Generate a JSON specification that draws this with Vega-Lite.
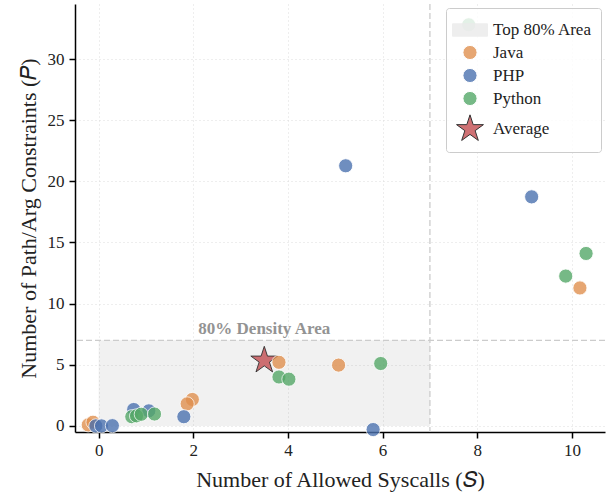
{
  "$schema": "https://vega.github.io/schema/vega-lite/v6.json",
  "width": 530,
  "height": 428,
  "autosize": "none",
  "padding": {"left": 75, "top": 4, "right": 4, "bottom": 65},
  "background": "white",
  "datasets": {
    "pts": [
      {"x": 10.17, "y": 11.28, "series": "Java"},
      {"x": 5.07, "y": 4.97, "series": "Java"},
      {"x": 3.81, "y": 5.2, "series": "Java"},
      {"x": 1.98, "y": 2.16, "series": "Java"},
      {"x": 1.87, "y": 1.8, "series": "Java"},
      {"x": -0.22, "y": 0.08, "series": "Java"},
      {"x": -0.12, "y": 0.3, "series": "Java"},
      {"x": 5.22, "y": 21.27, "series": "PHP"},
      {"x": 9.15, "y": 18.73, "series": "PHP"},
      {"x": 5.8, "y": -0.3, "series": "PHP"},
      {"x": 1.8, "y": 0.75, "series": "PHP"},
      {"x": 0.74, "y": 1.34, "series": "PHP"},
      {"x": 1.06, "y": 1.23, "series": "PHP"},
      {"x": -0.06, "y": 0.0, "series": "PHP"},
      {"x": 0.06, "y": 0.0, "series": "PHP"},
      {"x": 0.29, "y": 0.02, "series": "PHP"},
      {"x": 10.3, "y": 14.1, "series": "Python"},
      {"x": 9.87, "y": 12.25, "series": "Python"},
      {"x": 5.96, "y": 5.1, "series": "Python"},
      {"x": 3.81, "y": 4.0, "series": "Python"},
      {"x": 4.02, "y": 3.82, "series": "Python"},
      {"x": 7.82, "y": 32.8, "series": "Python"},
      {"x": 0.7, "y": 0.75, "series": "Python"},
      {"x": 0.8, "y": 0.82, "series": "Python"},
      {"x": 0.9, "y": 0.95, "series": "Python"},
      {"x": 1.18, "y": 0.97, "series": "Python"},
      {"x": 3.5, "y": 5.35, "series": "Average"}
    ],
    "area": [{"x0": 0, "x1": 7, "y0": 0, "y1": 7, "label": "80% Density Area"}]
  },
  "layer": [
    {
      "data": {"name": "area"},
      "mark": {"type": "rect", "color": "#808080", "opacity": 0.11},
      "encoding": {
        "x": {"field": "x0", "type": "quantitative"},
        "x2": {"field": "x1"},
        "y": {"field": "y0", "type": "quantitative"},
        "y2": {"field": "y1"}
      }
    },
    {
      "data": {"name": "area"},
      "mark": {"type": "rule", "color": "#cccccc", "strokeDash": [6, 3], "strokeWidth": 1.3},
      "encoding": {"y": {"field": "y1", "type": "quantitative"}}
    },
    {
      "data": {"name": "area"},
      "mark": {"type": "rule", "color": "#cccccc", "strokeDash": [6, 3], "strokeWidth": 1.3},
      "encoding": {"x": {"field": "x1", "type": "quantitative"}}
    },
    {
      "data": {"name": "area"},
      "transform": [{"calculate": "(datum.x0 + datum.x1) / 2", "as": "xm"}],
      "mark": {"type": "text", "font": "Liberation Serif", "fontSize": 17, "fontWeight": "bold", "color": "#939393", "baseline": "bottom", "dy": -2},
      "encoding": {
        "x": {"field": "xm", "type": "quantitative"},
        "y": {"field": "y1", "type": "quantitative"},
        "text": {"field": "label"}
      }
    },
    {
      "data": {"name": "pts"},
      "mark": {"type": "point", "filled": true, "opacity": 0.8, "strokeWidth": 0.9},
      "encoding": {
        "x": {
          "field": "x", "type": "quantitative",
          "scale": {"domain": [-0.5, 10.7], "nice": false, "zero": false},
          "axis": {"values": [0, 2, 4, 6, 8, 10], "title": "Number of Allowed Syscalls (𝑆)"}
        },
        "y": {
          "field": "y", "type": "quantitative",
          "scale": {"domain": [-0.5, 34.5], "nice": false, "zero": false},
          "axis": {"values": [0, 5, 10, 15, 20, 25, 30], "title": "Number of Path/Arg Constraints (𝑃)"}
        },
        "color": {
          "field": "series", "type": "nominal", "title": null,
          "scale": {"domain": ["Top 80% Area", "Java", "PHP", "Python", "Average"], "range": ["#ebebeb", "#e0904f", "#4c72b0", "#55a868", "#c44e52"]}
        },
        "shape": {
          "field": "series", "type": "nominal", "title": null,
          "scale": {"domain": ["Top 80% Area", "Java", "PHP", "Python", "Average"], "range": ["M-1.4,-0.5H1.4V0.5H-1.4Z", "circle", "circle", "circle", "M0,-1L0.225,-0.309L0.951,-0.309L0.363,0.118L0.588,0.809L0,0.382L-0.588,0.809L-0.363,0.118L-0.951,-0.309L-0.225,-0.309Z"]}
        },
        "size": {
          "field": "series", "type": "nominal", "title": null,
          "scale": {"type": "ordinal", "domain": ["Top 80% Area", "Java", "PHP", "Python", "Average"], "range": [625, 200, 200, 200, 800]}
        },
        "stroke": {
          "field": "series", "type": "nominal", "title": null,
          "scale": {"domain": ["Top 80% Area", "Java", "PHP", "Python", "Average"], "range": ["#ebebeb", "#ffffff", "#ffffff", "#ffffff", "#000000"]}
        },
        "order": {"field": "series", "type": "nominal", "sort": "ascending"}
      }
    }
  ],
  "config": {
    "view": {"stroke": null},
    "font": "Liberation Serif",
    "axis": {
      "domainColor": "#000000",
      "domainWidth": 1.5,
      "tickColor": "#000000",
      "tickWidth": 1.5,
      "tickSize": 6,
      "labelFont": "Liberation Serif",
      "labelFontSize": 17,
      "labelColor": "#222222",
      "titleFont": "Liberation Serif",
      "titleFontSize": 22,
      "titleFontWeight": "normal",
      "titleColor": "#222222",
      "gridColor": "#dddddd",
      "gridDash": [1, 3],
      "gridWidth": 1
    },
    "axisX": {"labelPadding": 4, "titlePadding": 11},
    "axisY": {"labelPadding": 5, "titlePadding": 7},
    "legend": {
      "orient": "top-right",
      "offset": 4,
      "padding": 9,
      "strokeColor": "#cccccc",
      "fillColor": "rgba(255,255,255,0.8)",
      "cornerRadius": 3,
      "labelFont": "Liberation Serif",
      "labelFontSize": 17,
      "labelColor": "#222222",
      "labelOffset": 8,
      "rowPadding": 4,
      "symbolOpacity": 0.8,
      "symbolStrokeWidth": 1
    }
  }
}
